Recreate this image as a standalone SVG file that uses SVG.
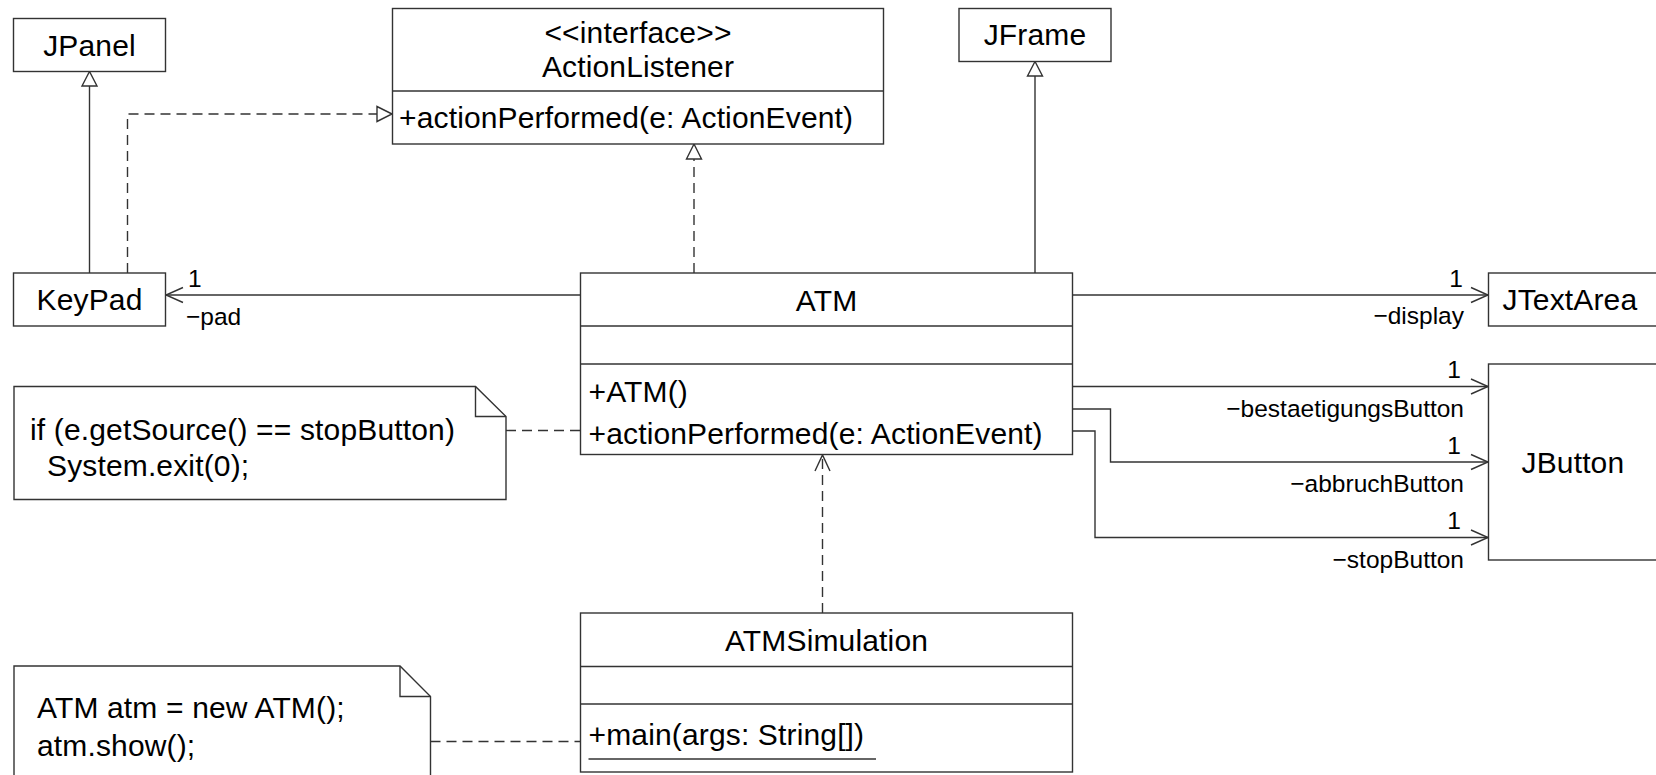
<svg xmlns="http://www.w3.org/2000/svg" width="1656" height="775" viewBox="0 0 1656 775">
<style>
.box{fill:#fff;stroke:#333;stroke-width:1.4}
.ln{fill:none;stroke:#333;stroke-width:1.4}
.dash{fill:none;stroke:#333;stroke-width:1.4;stroke-dasharray:10 6}
.tri{fill:#fff;stroke:#333;stroke-width:1.4}
text{font-family:"Liberation Sans",Arial,sans-serif;fill:#000}
.t{font-size:30px;letter-spacing:0.15px}
.c{text-anchor:middle}
.l{font-size:24.5px}
.e{text-anchor:end}
</style>
<rect width="1656" height="775" fill="#fff"/>

<g id="connectors">
  <!-- KeyPad -> JPanel generalization -->
  <line class="ln" x1="89.5" y1="273" x2="89.5" y2="86"/>
  <polygon class="tri" points="89.5,71.5 82,86 97,86"/>
  <!-- KeyPad -> ActionListener realization -->
  <polyline class="dash" points="127.5,273 127.5,114 377,114"/>
  <polygon class="tri" points="392,114 377,106.5 377,121.5"/>
  <!-- ATM -> ActionListener realization -->
  <line class="dash" x1="694" y1="273" x2="694" y2="159"/>
  <polygon class="tri" points="694,144 686.5,159 701.5,159"/>
  <!-- ATM -> JFrame generalization -->
  <line class="ln" x1="1035" y1="273" x2="1035" y2="76"/>
  <polygon class="tri" points="1035,61.5 1027.5,76 1042.5,76"/>
  <!-- ATM -> KeyPad association -->
  <line class="ln" x1="580.5" y1="295" x2="166" y2="295"/>
  <polyline class="ln" points="183,287.5 166,295 183,302.5"/>
  <!-- ATM -> JTextArea -->
  <line class="ln" x1="1072.5" y1="295" x2="1488" y2="295"/>
  <polyline class="ln" points="1471,287.5 1488,295 1471,302.5"/>
  <!-- ATM -> JButton x3 -->
  <line class="ln" x1="1072.5" y1="386.5" x2="1488" y2="386.5"/>
  <polyline class="ln" points="1471,379 1488,386.5 1471,394"/>
  <polyline class="ln" points="1072.5,409 1110.5,409 1110.5,462 1488,462"/>
  <polyline class="ln" points="1471,454.5 1488,462 1471,469.5"/>
  <polyline class="ln" points="1072.5,431 1095,431 1095,537.5 1488,537.5"/>
  <polyline class="ln" points="1471,530 1488,537.5 1471,545"/>
  <!-- ATMSimulation -> ATM dependency -->
  <line class="dash" x1="822.5" y1="613" x2="822.5" y2="456"/>
  <polyline class="ln" points="815,471 822.5,455 830,471"/>
  <!-- note links -->
  <line class="dash" x1="506" y1="430.5" x2="580.5" y2="430.5"/>
  <line class="dash" x1="430.5" y1="741.5" x2="580.5" y2="741.5"/>
  <!-- labels -->
  <text class="l" x="188" y="287">1</text>
  <text class="l" x="186" y="325">−pad</text>
  <text class="l e" x="1463" y="287">1</text>
  <text class="l e" x="1464" y="324">−display</text>
  <text class="l e" x="1461" y="378">1</text>
  <text class="l e" x="1464" y="416.5">−bestaetigungsButton</text>
  <text class="l e" x="1461" y="453.5">1</text>
  <text class="l e" x="1464" y="491.5">−abbruchButton</text>
  <text class="l e" x="1461" y="529">1</text>
  <text class="l e" x="1464" y="567.5">−stopButton</text>
</g>

<g id="JPanel">
  <rect class="box" x="13.5" y="18.5" width="152" height="53"/>
  <text class="t c" x="89.5" y="56">JPanel</text>
</g>

<g id="KeyPad">
  <rect class="box" x="13.5" y="273" width="152" height="53"/>
  <text class="t c" x="89.5" y="310">KeyPad</text>
</g>

<g id="ActionListener">
  <rect class="box" x="392.5" y="8.5" width="491" height="135.5"/>
  <line class="ln" x1="392.5" y1="91" x2="883.5" y2="91"/>
  <text class="t c" x="638" y="43">&lt;&lt;interface&gt;&gt;</text>
  <text class="t c" x="638" y="77">ActionListener</text>
  <text class="t" x="399" y="128">+actionPerformed(e: ActionEvent)</text>
</g>

<g id="JFrame">
  <rect class="box" x="959" y="8.5" width="152" height="53"/>
  <text class="t c" x="1035" y="45">JFrame</text>
</g>

<g id="JTextArea">
  <rect class="box" x="1488.5" y="273" width="180" height="53"/>
  <text class="t" x="1502.5" y="310">JTextArea</text>
</g>

<g id="JButton">
  <rect class="box" x="1488.5" y="364" width="180" height="196"/>
  <text class="t" x="1521.5" y="473">JButton</text>
</g>

<g id="ATM">
  <rect class="box" x="580.5" y="273" width="492" height="181.5"/>
  <line class="ln" x1="580.5" y1="326" x2="1072.5" y2="326"/>
  <line class="ln" x1="580.5" y1="364" x2="1072.5" y2="364"/>
  <text class="t c" x="826.5" y="311">ATM</text>
  <text class="t" x="588.5" y="401.5">+ATM()</text>
  <text class="t" x="588.5" y="444">+actionPerformed(e: ActionEvent)</text>
</g>

<g id="ATMSimulation">
  <rect class="box" x="580.5" y="613" width="492" height="159"/>
  <line class="ln" x1="580.5" y1="666.5" x2="1072.5" y2="666.5"/>
  <line class="ln" x1="580.5" y1="704" x2="1072.5" y2="704"/>
  <text class="t c" x="826.5" y="651">ATMSimulation</text>
  <text class="t" x="588.5" y="745">+main(args: String[])</text>
  <line class="ln" x1="588.5" y1="759" x2="876" y2="759"/>
</g>

<g id="note1">
  <polygon class="box" points="14,386.5 475.5,386.5 506,416.5 506,499.5 14,499.5"/>
  <polyline class="ln" points="475.5,386.5 475.5,416.5 506,416.5"/>
  <text class="t" x="30" y="439.5">if (e.getSource() == stopButton)</text>
  <text class="t" x="30" y="476" xml:space="preserve">  System.exit(0);</text>
</g>

<g id="note2">
  <polygon class="box" points="14,666 400,666 430.5,696.5 430.5,790 14,790"/>
  <polyline class="ln" points="400,666 400,696.5 430.5,696.5"/>
  <text class="t" x="37" y="717.5">ATM atm = new ATM();</text>
  <text class="t" x="37" y="756">atm.show();</text>
</g>
</svg>
